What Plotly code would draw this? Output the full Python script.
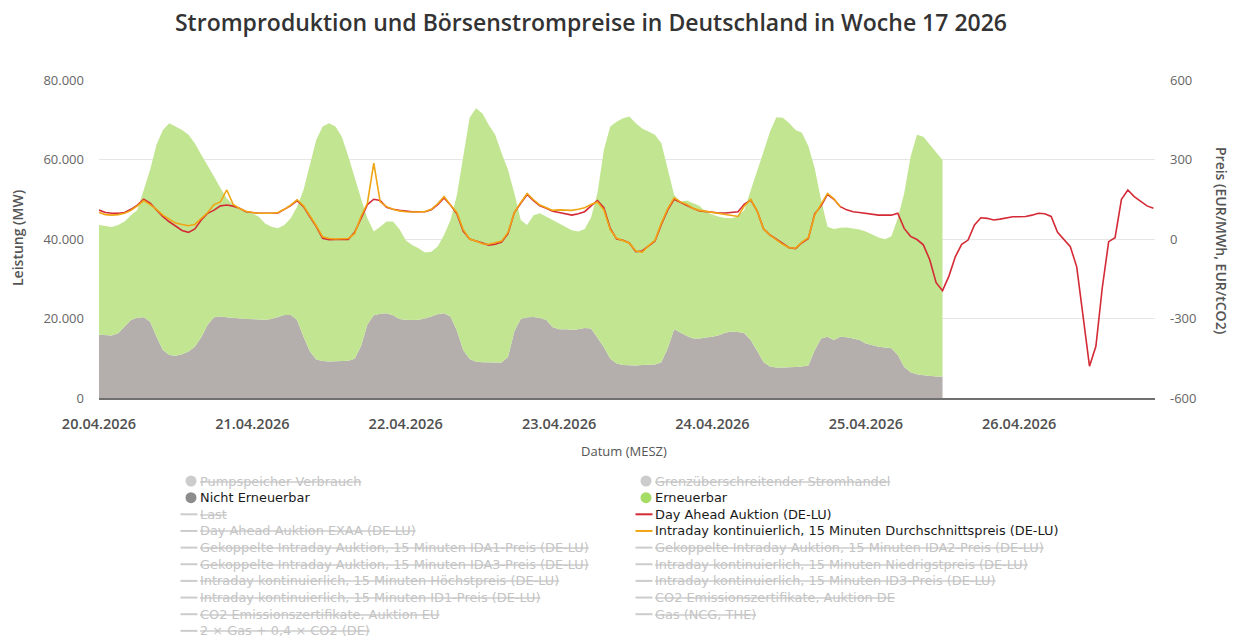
import pandas as pd
import plotly.graph_objects as go

# ---------------- data (hourly) ----------------
start = "2026-04-20 00:00"

# top of the stacked area = total production (MW), 20.04 00:00 .. 25.04 12:00
gesamt_mw = [
    43500, 43300, 43000, 43500, 44400, 46000, 47300, 52300, 57400, 63700, 67400, 69100,
    68300, 67400, 66200, 64100, 61200, 58600, 55700, 52800, 50200, 48600, 47700, 46900,
    46400, 45600, 43900, 43100, 42700, 43500, 45200, 48100, 52300, 59000, 65000, 68300,
    69100, 68300, 65700, 60900, 55300, 50200, 45200, 41900, 43100, 44400, 44400, 42500,
    39700, 38500, 37700, 36600, 36800, 38100, 41000, 44800, 51000, 61000, 70500, 72900,
    71600, 68700, 66200, 61600, 57400, 51500, 44800, 43500, 46000, 46500, 45600, 44800,
    43800, 43100, 42200, 41900, 42500, 45400, 51500, 62400, 68300, 69500, 70400, 70800,
    69100, 67800, 67000, 66200, 64100, 57400, 51100, 49400, 49700, 49000, 48300, 46700,
    46200, 45600, 45300, 45200, 45700, 47300, 52300, 56900, 62000, 67000, 70600, 70500,
    69200, 67400, 66700, 63400, 57800, 49800, 43100, 42500, 42800, 42900, 42700, 42400,
    41900, 41100, 40400, 39950, 40700, 45200, 51500, 60700, 66200, 65700, 63700, 61700,
    59900,
]

nicht_erneuerbar_mw = [
    15900, 15800, 15700, 16300, 18000, 19600, 20200, 20300, 19200, 15400, 12100, 10800,
    10600, 11000, 11700, 12900, 15300, 18400, 20300, 20500, 20300, 20100, 20000, 19900,
    19800, 19700, 19700, 19900, 20400, 20900, 20900, 19600, 15400, 11700, 9700, 9300,
    9200, 9300, 9300, 9400, 9900, 13000, 18500, 20800, 21200, 21300, 20800, 19900,
    19700, 19600, 19700, 20000, 20500, 21050, 21300, 20500, 17000, 12000, 9800, 9100,
    9000, 8900, 8900, 8900, 10300, 16800, 19900, 20300, 20400, 20100, 19600, 17800,
    17300, 17300, 17200, 17300, 17600, 17500, 15000, 12800, 9900, 8700, 8300, 8200,
    8200, 8300, 8300, 8400, 9000, 12500, 17300, 16400, 15600, 15000, 15000, 15200,
    15400, 15800, 16400, 16700, 16600, 16300, 14500, 11800, 9000, 7900, 7700, 7700,
    7700, 7800, 7900, 8200, 12000, 15000, 15400, 14600, 15400, 15300, 15000, 14600,
    13700, 13300, 12900, 12700, 12500, 10800, 7800, 6500, 6000, 5700, 5500, 5400,
    5400,
]

# Day Ahead Auktion (DE-LU), EUR/MWh, 20.04 00:00 .. 26.04 21:00
day_ahead_eur = [
    109, 100, 97, 97, 100, 112, 128, 150, 135, 109, 84, 65,
    47, 32, 25, 38, 72, 97, 109, 125, 128, 124, 116, 103,
    100, 97, 97, 97, 98, 112, 126, 145, 122, 84, 47, 3,
    -3, -2, -3, -2, 25, 80, 130, 150, 145, 120, 112, 108,
    105, 103, 103, 103, 110, 130, 155, 128, 95, 30, 0, -8,
    -15, -23, -20, -12, 20, 100, 135, 168, 145, 125, 116, 105,
    100, 95, 90, 95, 103, 125, 145, 118, 40, 0, -5, -15,
    -48, -45, -27, -8, 55, 110, 150, 138, 128, 115, 106, 103,
    100, 98, 98, 100, 103, 132, 147, 105, 38, 15, -2, -18,
    -33, -36, -14, 2, 95, 125, 168, 150, 122, 110, 103, 100,
    97, 93, 90, 90, 90, 97, 40, 10, -2, -22, -78, -165,
    -195, -140, -67, -20, -4, 53, 80, 78, 72, 75, 80, 84,
    84, 85, 90, 97, 95, 85, 25, -2, -29, -105, -290, -480,
    -405, -184, -10, 5, 150, 185, 160, 141, 125, 116,
]

# Intraday kontinuierlich, 15 Minuten Durchschnittspreis (DE-LU), 20.04 00:00 .. 24.04 20:00
intraday_eur = [
    100, 92, 90, 92, 97, 108, 125, 145, 130, 112, 90, 75,
    60, 55, 50, 55, 78, 100, 130, 140, 185, 130, 115, 105,
    100, 97, 97, 97, 100, 112, 128, 148, 125, 88, 50, 8,
    2, 0, 0, 2, 20, 85, 135, 286, 140, 122, 112, 106,
    103, 102, 102, 104, 112, 133, 160, 128, 100, 35, 0, -8,
    -18, -20, -15, -8, 25, 100, 138, 172, 148, 128, 118, 108,
    110, 110, 108, 112, 118, 130, 140, 110, 35, 3, -5, -15,
    -45, -50, -25, -5, 60, 115, 155, 140, 130, 115, 108, 104,
    100, 96, 92, 88, 85, 125, 150, 105, 38, 15, -2, -20,
    -33, -35, -12, 5, 90, 130, 172, 152, 122,
]

left_tickvals = [0, 20000, 40000, 60000, 80000]
left_ticktext = ["0", "20.000", "40.000", "60.000", "80.000"]
right_tickvals = [-600, -300, 0, 300, 600]
right_ticktext = ["-600", "-300", "0", "300", "600"]

# legend entries: (name, kind, color, active)
legend_left = [
    ("Pumpspeicher Verbrauch", "circle", "#cccccc", False),
    ("Nicht Erneuerbar", "circle", "#8c8c8c", True),
    ("Last", "line", "#cccccc", False),
    ("Day Ahead Auktion EXAA (DE-LU)", "line", "#cccccc", False),
    ("Gekoppelte Intraday Auktion, 15 Minuten IDA1-Preis (DE-LU)", "line", "#cccccc", False),
    ("Gekoppelte Intraday Auktion, 15 Minuten IDA3-Preis (DE-LU)", "line", "#cccccc", False),
    ("Intraday kontinuierlich, 15 Minuten Höchstpreis (DE-LU)", "line", "#cccccc", False),
    ("Intraday kontinuierlich, 15 Minuten ID1-Preis (DE-LU)", "line", "#cccccc", False),
    ("CO2 Emissionszertifikate, Auktion EU", "line", "#cccccc", False),
    ("2 × Gas + 0,4 × CO2 (DE)", "line", "#cccccc", False),
]
legend_right = [
    ("Grenzüberschreitender Stromhandel", "circle", "#cccccc", False),
    ("Erneuerbar", "circle", "#a5dc64", True),
    ("Day Ahead Auktion (DE-LU)", "line", "#d42a35", True),
    ("Intraday kontinuierlich, 15 Minuten Durchschnittspreis (DE-LU)", "line", "#f0a514", True),
    ("Gekoppelte Intraday Auktion, 15 Minuten IDA2-Preis (DE-LU)", "line", "#cccccc", False),
    ("Intraday kontinuierlich, 15 Minuten Niedrigstpreis (DE-LU)", "line", "#cccccc", False),
    ("Intraday kontinuierlich, 15 Minuten ID3-Preis (DE-LU)", "line", "#cccccc", False),
    ("CO2 Emissionszertifikate, Auktion DE", "line", "#cccccc", False),
    ("Gas (NCG, THE)", "line", "#cccccc", False),
]

# ---------------- figure ----------------
W, H = 1237, 640
ML, MR, MT, MB = 99, 82, 80, 242
PW, PH = W - ML - MR, H - MT - MB
FONT = "Open Sans, Lato, DejaVu Sans, sans-serif"
LEGEND_FONT = "DejaVu Sans, Verdana, sans-serif"

t_area = pd.date_range(start, periods=len(gesamt_mw), freq="h")
t_da = pd.date_range(start, periods=len(day_ahead_eur), freq="h")
t_id = pd.date_range(start, periods=len(intraday_eur), freq="h")

fig = go.Figure()
fig.add_trace(go.Scatter(
    x=t_area, y=nicht_erneuerbar_mw, name="Nicht Erneuerbar", mode="lines",
    line=dict(width=0, color="rgb(180,174,172)"), fill="tozeroy",
    fillcolor="rgb(180,174,172)", showlegend=False))
fig.add_trace(go.Scatter(
    x=t_area, y=gesamt_mw, name="Erneuerbar", mode="lines",
    line=dict(width=0, color="rgb(194,229,146)"), fill="tonexty",
    fillcolor="rgb(194,229,146)", showlegend=False))
fig.add_trace(go.Scatter(
    x=t_da, y=day_ahead_eur, name="Day Ahead Auktion (DE-LU)", mode="lines",
    line=dict(width=1.6, color="#d42a35"), yaxis="y2", showlegend=False))
fig.add_trace(go.Scatter(
    x=t_id, y=intraday_eur, name="Intraday kontinuierlich, 15 Minuten Durchschnittspreis (DE-LU)",
    mode="lines", line=dict(width=1.6, color="#f0a514"), yaxis="y2", showlegend=False))


def px_x(px):
    return (px - ML) / PW


def px_y(py):
    return (H - MB - py) / PH


annotations = []
shapes = []
row0, row_gap = 481, 16.65
for col_items, sym_x, txt_x in ((legend_left, 189, 199), (legend_right, 644, 654)):
    for i, (name, kind, color, active) in enumerate(col_items):
        py = row0 + i * row_gap
        ya = px_y(py)
        if kind == "circle":
            shapes.append(dict(type="circle", xref="paper", yref="paper",
                               xsizemode="pixel", ysizemode="pixel",
                               xanchor=px_x(sym_x + 2), yanchor=ya,
                               x0=-5.5, x1=5.5, y0=-5.5, y1=5.5,
                               fillcolor=color, line=dict(width=0)))
        else:
            shapes.append(dict(type="line", xref="paper", yref="paper",
                               xsizemode="pixel", ysizemode="pixel",
                               xanchor=px_x(sym_x), yanchor=ya,
                               x0=-8.5, x1=8.5, y0=0, y1=0,
                               line=dict(width=2, color=color)))
        txt = name if active else "<s>" + name + "</s>"
        annotations.append(dict(text=txt, xref="paper", yref="paper",
                                x=px_x(txt_x), y=ya, xanchor="left", yanchor="middle",
                                showarrow=False, borderpad=0,
                                font=dict(family=LEGEND_FONT, size=12.9,
                                          color="#1a1a1a" if active else "#c4c4c4")))

# axis titles
annotations.append(dict(text="Leistung (MW)", xref="paper", yref="paper",
                        x=px_x(17), y=px_y(238), textangle=-90, showarrow=False,
                        xanchor="center", yanchor="middle",
                        font=dict(family=FONT, size=14, color="#555555", weight=600)))
annotations.append(dict(text="Preis (EUR/MWh, EUR/tCO2)", xref="paper", yref="paper",
                        x=px_x(1222), y=px_y(240), textangle=90, showarrow=False,
                        xanchor="center", yanchor="middle",
                        font=dict(family=FONT, size=14, color="#555555", weight=600)))
annotations.append(dict(text="Datum (MESZ)", xref="paper", yref="paper",
                        x=px_x(624), y=px_y(451), showarrow=False,
                        xanchor="center", yanchor="middle",
                        font=dict(family=FONT, size=13, color="#555555")))

fig.update_layout(
    width=W, height=H,
    margin=dict(l=ML, r=MR, t=MT, b=MB, autoexpand=False),
    paper_bgcolor="white", plot_bgcolor="white",
    font=dict(family=FONT, color="#555555"),
    title=dict(text="Stromproduktion und Börsenstrompreise in Deutschland in Woche 17 2026",
               x=591 / W, xref="container", xanchor="center",
               y=1 - 23 / H, yref="container", yanchor="middle",
               font=dict(family=FONT, size=23, color="#333333", weight=600)),
    showlegend=False,
    xaxis=dict(type="date", range=["2026-04-20 00:00", "2026-04-26 21:15"],
               tick0="2026-04-20", dtick=86400000, tickformat="%d.%m.%Y",
               showgrid=False, zeroline=False, showline=True, linecolor="#707070",
               linewidth=1.5, ticks="", ticklabelstandoff=12,
               tickfont=dict(family=FONT, size=14.5, color="#505050", weight=600)),
    yaxis=dict(range=[0, 80000], tickvals=left_tickvals, ticktext=left_ticktext,
               showgrid=True, gridcolor="#e6e6e6", gridwidth=1, zeroline=False,
               showline=False, ticks="", ticklabelstandoff=14,
               tickfont=dict(family=FONT, size=13, color="#666666")),
    yaxis2=dict(range=[-600, 600], tickvals=right_tickvals, ticktext=right_ticktext,
                overlaying="y", side="right", showgrid=False, zeroline=False,
                showline=False, ticks="", ticklabelstandoff=14,
                tickfont=dict(family=FONT, size=13, color="#666666")),
    annotations=annotations,
    shapes=shapes,
    hovermode=False,
)

fig.write_html("out.html", config={"displayModeBar": False},
               post_script="document.body.style.margin='0';")
